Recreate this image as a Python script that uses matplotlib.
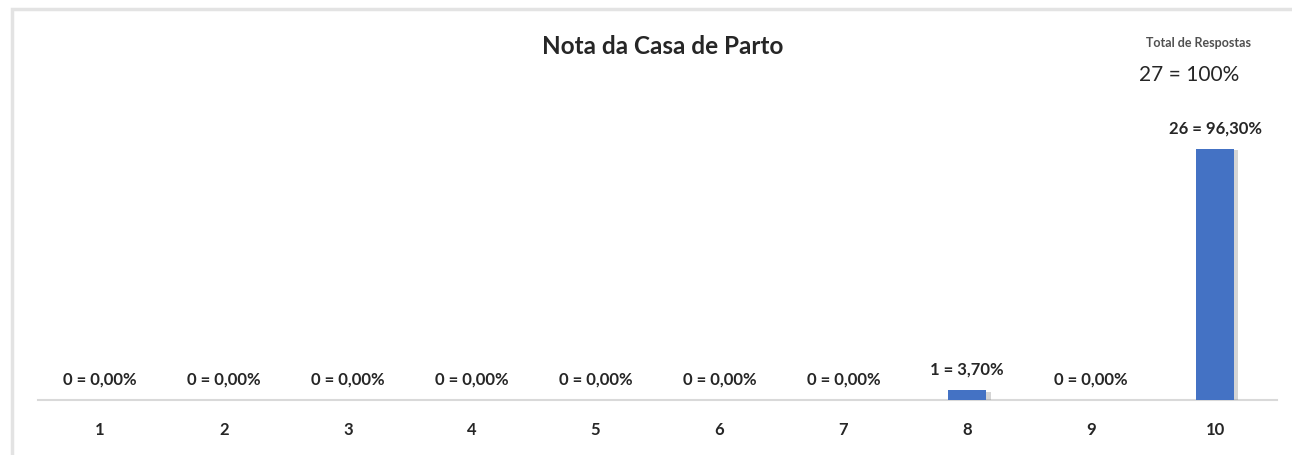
import matplotlib.pyplot as plt
import matplotlib.patheffects as pe
from matplotlib.patches import Rectangle

# data
notas = ['1', '2', '3', '4', '5', '6', '7', '8', '9', '10']
respostas = [0, 0, 0, 0, 0, 0, 0, 1, 0, 26]
percentuais = ['0,00%', '0,00%', '0,00%', '0,00%', '0,00%', '0,00%', '0,00%', '3,70%', '0,00%', '96,30%']
total = 27

plt.rcParams['font.family'] = ['Lato', 'DejaVu Sans']

fig = plt.figure(figsize=(12.92, 4.56), dpi=100)
fig.patch.set_facecolor('white')

# light gray frame around the chart area
fig.patches.append(Rectangle((12 / 1292, -0.1), 1.2, 1 - 10 / 456 + 0.1,
                             transform=fig.transFigure, fill=False,
                             edgecolor='#e3e3e3', linewidth=2.5))

ax = fig.add_axes([38 / 1292, 1 - 401 / 456, (1277 - 38) / 1292, 251 / 456])
x = range(len(notas))
bars = ax.bar(x, respostas, width=0.31, color='#4472c4', zorder=3)
for b in bars:
    b.set_path_effects([pe.SimplePatchShadow(offset=(3, -1), shadow_rgbFace='#888888', alpha=0.35), pe.Normal()])

ax.set_xlim(-0.5, len(notas) - 0.5)
ax.set_ylim(0, 26)
for s in ['top', 'right', 'left']:
    ax.spines[s].set_visible(False)
ax.spines['bottom'].set_color('#d9d9d9')
ax.spines['bottom'].set_linewidth(1.5)
ax.set_yticks([])
ax.set_xticks(list(x))
ax.set_xticklabels(notas, fontsize=12, fontweight='bold', color='#262626')
ax.tick_params(axis='x', length=0, pad=15)

for i, (v, p) in enumerate(zip(respostas, percentuais)):
    ax.annotate(f'{v} = {p}', (i, v), xytext=(0, 10), textcoords='offset points',
                ha='center', va='bottom', fontsize=12, fontweight='bold', color='#262626')

fig.text(663 / 1292, 1 - 47 / 456, 'Nota da Casa de Parto', ha='center', va='center',
         fontsize=17.5, fontweight='bold', color='#262626')
fig.text(1198 / 1292, 1 - 43 / 456, 'Total de Respostas', ha='center', va='center',
         fontsize=9, fontweight='bold', color='#505050')
fig.text(1189 / 1292, 1 - 75 / 456, f'{total} = 100%', ha='center', va='center',
         fontsize=15, color='#262626')

fig.savefig('out.png', dpi=100)
